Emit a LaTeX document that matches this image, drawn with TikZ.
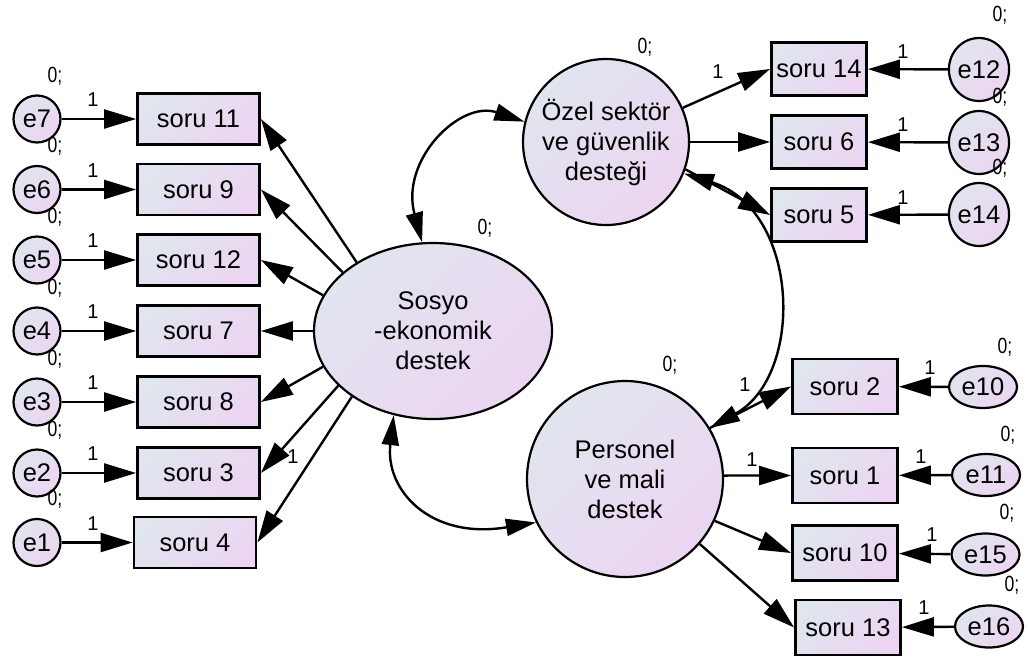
\documentclass[tikz,border=0pt]{standalone}
\usepackage{fontspec}
\setmainfont{Liberation Sans}
\newfontfamily\narrowlab[FakeStretch=0.8]{Liberation Sans}
\usetikzlibrary{arrows.meta,shapes.geometric}
\definecolor{cA}{HTML}{E0E5EE}
\definecolor{cB}{HTML}{ECD5F2}
\begin{document}
\begin{tikzpicture}[x=1pt,y=-1pt,
  fillg/.style={top color=cA, bottom color=cB, shading angle=45},
  obs/.style={draw, line width=2.8pt, fillg, inner sep=0pt, font=\fontsize{25.5}{30}\selectfont},
  obsL/.style={obs, minimum width=122pt, minimum height=51pt},
  obsT/.style={obs, minimum width=95pt, minimum height=53pt},
  obsB/.style={obs, minimum width=105pt, minimum height=55pt},
  errc/.style={draw, ellipse, line width=2.2pt, fillg, inner sep=0pt, font=\fontsize{25.5}{30}\selectfont},
  errL/.style={errc, minimum width=47pt, minimum height=47pt},
  errT/.style={errc, minimum width=60pt, minimum height=63pt},
  errB/.style={errc, minimum width=68pt, minimum height=42pt},
  lat/.style={draw, line width=2.2pt, fillg, inner sep=0pt, align=center, font=\fontsize{25.5}{30}\selectfont},
  arr/.style={line width=2.4pt, -{Triangle[length=32pt,width=19pt]}},
  cov/.style={line width=2.4pt, {Triangle[length=30pt,width=17pt]}-{Triangle[length=30pt,width=17pt]}},
  one/.style={inner sep=0pt, font=\fontsize{20}{20}\selectfont},
  zl/.style={inner sep=0pt, font=\narrowlab\fontsize{22}{22}\selectfont}]
\useasboundingbox (0,0) rectangle (1028,659);

% latent variables
\node[lat, ellipse, minimum width=238pt, minimum height=176pt] (s) at (433,331) {Sosyo\\-ekonomik\\destek};
\node[lat, circle, minimum size=166pt] (o) at (606,142) {Özel sektör\\ve güvenlik\\desteği};
\node[lat, circle, minimum size=196pt] (p) at (625,479) {Personel\\ve mali\\destek};
\node[zl] (zs) at (485,228) {0;};
\node[zl] (zo) at (645,47) {0;};
\node[zl] (zp) at (670,365) {0;};

% left indicators
\foreach \b/\e/\t/\bx/\y in {b11/e7/soru 11/198.5/119, b9/e6/soru 9/198.5/189.5, b12/e5/soru 12/198.5/260, b7/e4/soru 7/198.5/331, b8/e3/soru 8/198.5/402, b3/e2/soru 3/198.5/473, b4/e1/soru 4/195/542.5}{
  \node[obsL] (\b) at (\bx,\y) {\t};
  \node[errL] (\e) at (37,\y) {\e};
  \draw[arr] (\e) -- (\b);
  \node[zl] (z\e) at (55,\y-43) {0;};
  \node[one] (one\e) at (93,\y-19) {1};
}
\draw[arr] (s.138.5) -- (b11.east);
\draw[arr] (s.147.6) -- (b9.east);
\draw[arr] (s.162) -- (b12.east);
\draw[arr] (s.180) -- (b7.east);
\draw[arr] (s.198) -- (b8.east);
\draw[arr] (s.210.7) -- (b3.east);
\draw[arr] (s.219) -- (b4.east);
\node[one] (ones4) at (293,457) {1};

% top right indicators
\foreach \b/\e/\t/\y/\ey/\zy in {b14/e12/soru 14/69/69.5/15, b6/e13/soru 6/142/142.5/97, b5/e14/soru 5/215/214.5/168}{
  \node[obsT] (\b) at (819,\y) {\t};
  \node[errT] (\e) at (979,\ey) {\e};
  \draw[arr] (\e) -- (\b);
  \node[zl] (z\e) at (1000,\zy) {0;};
  \node[one] (one\e) at (903,\y-17) {1};
}
\draw[arr] (o.24.4) -- (b14.west);
\draw[arr] (o.0) -- (b6.west);
\draw[arr] (o.-19) -- (b5.west);
\node[one] (oneo14) at (718,72) {1};

% bottom right indicators
\foreach \b/\e/\t/\bx/\y/\ex/\ey/\zx/\zy/\ox/\oy in {b2/e10/soru 2/845/386.5/983/387/1005/347/930/368, b1/e11/soru 1/845/475.5/986/475/1008/435/921/457, b10/e15/soru 10/845/553/985.5/554.5/1007/513/932/535, b13/e16/soru 13/848/627.5/989/626.5/1012/585/924/608}{
  \node[obsB] (\b) at (\bx,\y) {\t};
  \node[errB] (\e) at (\ex,\ey) {\e};
  \draw[arr] (\e) -- (\b);
  \node[zl] (z\e) at (\zx,\zy) {0;};
  \node[one] (one\e) at (\ox,\oy) {1};
}
\draw[arr] (p.31) -- (b2.west);
\draw[arr] (p.2) -- (b1.west);
\draw[arr] (p.-25) -- (b10.west);
\draw[arr] (p.-41.5) -- (b13.west);
\node[one] (onep1) at (752,460) {1};
\node[one] (onep2) at (745,385) {1};

% covariances
\draw[cov] (o.166) .. controls (460,100) and (400,160) .. (s.97);
\draw[cov] (s.245) .. controls (385,490) and (430,540) .. (p.206.6);
\draw[cov] (o.-22) .. controls (800,210) and (805,375) .. (p.31.5);
\end{tikzpicture}
\end{document}
